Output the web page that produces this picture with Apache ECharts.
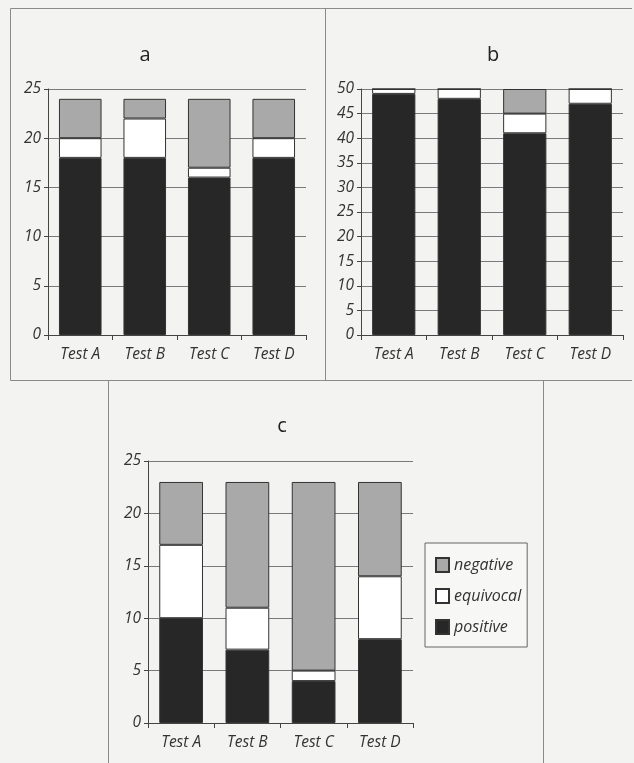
<!DOCTYPE html>
<html><head><meta charset="utf-8">
<script src="https://cdn.jsdelivr.net/npm/echarts@6/dist/echarts.min.js"></script>
<style>html,body{margin:0;padding:0;background:#f3f3f1;}#c{width:634px;height:763px;}</style>
</head><body><div id="c"></div>
<script>
const categories = ['Test A','Test B','Test C','Test D'];
const seriesNames = ['positive','equivocal','negative'];
// panel a
const aPositive = [18,18,16,18];
const aEquivocal = [2,4,1,2];
const aNegative = [4,2,7,4];
// panel b
const bPositive = [49,48,41,47];
const bEquivocal = [1,2,4,3];
const bNegative = [0,0,5,0];
// panel c
const cPositive = [10,7,4,8];
const cEquivocal = [7,4,1,6];
const cNegative = [6,12,18,9];
const panelTitles = ['a','b','c'];
const yMax = [25,50,25];
const yInterval = [5,5,5];

const colors = {positive:'#272727', equivocal:'#ffffff', negative:'#a9a9a9'};
const font = 'Open Sans';
const grids = [
  {left:48, top:89, width:258, height:246},
  {left:361, top:89, width:262, height:246},
  {left:148, top:461, width:265, height:262}
];
const panelData = [
  [aPositive,aEquivocal,aNegative],
  [bPositive,bEquivocal,bNegative],
  [cPositive,cEquivocal,cNegative]
];
const xAxis = grids.map((g,i)=>({
  type:'category', gridIndex:i, data:categories,
  axisLine:{show:true, lineStyle:{color:'#444', width:1}},
  axisTick:{show:true, length:5, lineStyle:{color:'#444'}},
  axisLabel:{fontFamily:font, fontStyle:'italic', fontSize:15.5, color:'#333', margin:12}
}));
const yAxis = grids.map((g,i)=>({
  type:'value', gridIndex:i, min:0, max:yMax[i], interval:yInterval[i],
  axisLine:{show:true, lineStyle:{color:'#444', width:1}},
  axisTick:{show:true, length:4, lineStyle:{color:'#444'}},
  axisLabel:{fontFamily:font, fontStyle:'italic', fontSize:15.5, color:'#333', margin:7},
  splitLine:{show:true, lineStyle:{color:'#7a7a7a', width:1}}
}));
const series = [];
panelData.forEach((arrs,i)=>{
  arrs.forEach((vals,k)=>{
    const name = seriesNames[k];
    series.push({
      type:'bar', name:name, xAxisIndex:i, yAxisIndex:i, stack:'s'+i,
      data:vals, barWidth:'66%',
      itemStyle:{color:colors[name], borderColor:'#333', borderWidth:1},
      emphasis:{disabled:true}
    });
  });
});
const titlePos = [[140,50],[488,50],[277,421]];
const title = panelTitles.map((t,i)=>({
  text:t, left:titlePos[i][0], top:titlePos[i][1], textAlign:'center', textVerticalAlign:'middle',
  textStyle:{fontFamily:font, fontSize:20, fontWeight:'normal', color:'#222'}
}));
const frameStyle = {stroke:'#8a8a8a', lineWidth:1};
const line = (x1,y1,x2,y2)=>({type:'line', shape:{x1,y1,x2,y2}, style:frameStyle, silent:true, z:-1});
const option = {
  backgroundColor:'#f3f3f1',
  animation:false,
  title:title,
  grid:grids,
  xAxis:xAxis,
  yAxis:yAxis,
  series:series,
  legend:{
    orient:'vertical', left:425, top:543, width:102,
    data:['negative','equivocal','positive'],
    icon:'rect',
    backgroundColor:'#f7f7f5', borderColor:'#666', borderWidth:1,
    padding:[14,6,12,10], itemGap:15, itemWidth:13, itemHeight:14,
    textStyle:{fontFamily:font, fontStyle:'italic', fontSize:16, color:'#333'},
    selectedMode:false
  },
  graphic:[
    line(10.5,8.5,632,8.5),
    line(10.5,8.5,10.5,380.5),
    line(10.5,380.5,632,380.5),
    line(325.5,8.5,325.5,380.5),
    line(108.5,380.5,108.5,763),
    line(543.5,380.5,543.5,763)
  ]
};
echarts.init(document.getElementById('c')).setOption(option);
</script></body></html>
